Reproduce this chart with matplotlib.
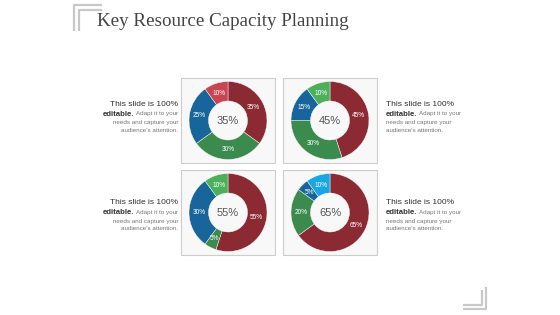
import matplotlib
matplotlib.use('Agg')
import matplotlib.pyplot as plt
from matplotlib.patches import Rectangle

plt.rcParams['font.family'] = ['Liberation Sans', 'DejaVu Sans']

W, H = 560, 315

title = 'Key Resource Capacity Planning'
center_labels = ['35%', '45%', '55%', '65%']
shares = [
    [35, 30, 25, 10],
    [45, 30, 15, 10],
    [55, 5, 30, 10],
    [65, 20, 5, 10],
]
DARK_RED = '#8b2a33'
GREEN = '#3c8b4e'
BLUE = '#17659a'
share_colors = [
    [DARK_RED, GREEN, BLUE, '#c84552'],
    [DARK_RED, GREEN, BLUE, '#4caf5a'],
    [DARK_RED, GREEN, BLUE, '#4caf5a'],
    [DARK_RED, GREEN, BLUE, '#1ba6e2'],
]
text_head = 'This slide is 100%'
text_bold = 'editable.'
text_rest = ['Adapt it to your', 'needs and capture your', "audience's attention."]

# layout in pixels (y measured from top)
boxes = [(181, 78), (283, 78), (181, 170), (283, 170)]
box_w, box_h = 94, 85
centers = [(228, 120.5), (330, 120.5), (228, 212.5), (330, 212.5)]
side_text = [(178, 104.5, 'right'), (386, 104.5, 'left'),
             (178, 203, 'right'), (386, 203, 'left')]
line_gap = [0, 9.5, 18, 26]
SMALL = 4.5
BOLD = 5.6


def Y(y):
    return H - y


fig = plt.figure(figsize=(W / 100, H / 100), dpi=100)
ax = fig.add_axes([0, 0, 1, 1])

for (bx, by) in boxes:
    ax.add_patch(Rectangle((bx, Y(by + box_h)), box_w, box_h,
                           facecolor='#f8f8f8', edgecolor='#cdcdcd',
                           linewidth=0.8, zorder=0.5))

for i, (cx, cy) in enumerate(centers):
    ax.pie(shares[i], colors=share_colors[i], startangle=90,
           counterclock=False, center=(cx, Y(cy)), radius=39,
           labels=[f'{v}%' for v in shares[i]], labeldistance=0.74,
           wedgeprops=dict(width=19.5, edgecolor='white', linewidth=0.3),
           textprops=dict(color='white', fontsize=4.7,
                          ha='center', va='center'))
    ax.text(cx, Y(cy), center_labels[i], fontsize=8, color='#555555',
            ha='center', va='center')

# title and corner decorations
ax.text(97, Y(22), title, fontsize=13.7, color='#444444',
        family='Liberation Serif', ha='left', va='center')
deco = dict(color='#c8c8c8', lw=1.6, solid_capstyle='butt')
ax.plot([74, 74, 102], [Y(31), Y(5), Y(5)], **deco)
ax.plot([79, 79, 102], [Y(31), Y(10), Y(10)], **deco)
ax.plot([463, 486, 486], [Y(309), Y(309), Y(287)], **deco)
ax.plot([463, 482, 482], [Y(305), Y(305), Y(290)], **deco)

ax.set_xlim(0, W)
ax.set_ylim(0, H)
ax.set_aspect('auto')
ax.axis('off')

# side descriptions
pending = []
for (tx, ty, ha) in side_text:
    ax.text(tx, Y(ty), text_head, fontsize=6, color='#333333',
            ha=ha, va='center')
    if ha == 'right':
        first = ax.text(tx, Y(ty + line_gap[1]), text_rest[0],
                        fontsize=SMALL, color='#777777', ha=ha, va='center')
    else:
        first = ax.text(tx, Y(ty + line_gap[1]), text_bold, fontsize=BOLD,
                        color='#333333', fontweight='bold', ha=ha, va='center')
    pending.append((first, ha, ty))
    for k in (2, 3):
        ax.text(tx, Y(ty + line_gap[k]), text_rest[k - 1], fontsize=SMALL,
                color='#777777', ha=ha, va='center')

fig.canvas.draw()
inv = ax.transData.inverted()
for (t, ha, ty) in pending:
    bb = t.get_window_extent()
    x0 = inv.transform((bb.x0, bb.y0))[0]
    x1 = inv.transform((bb.x1, bb.y0))[0]
    if ha == 'right':
        ax.text(x0 - 1.5, Y(ty + line_gap[1]), text_bold, fontsize=BOLD,
                color='#333333', fontweight='bold', ha='right', va='center')
    else:
        ax.text(x1 + 1.5, Y(ty + line_gap[1]), text_rest[0], fontsize=SMALL,
                color='#777777', ha='left', va='center')

fig.savefig('out.png', dpi=100)
